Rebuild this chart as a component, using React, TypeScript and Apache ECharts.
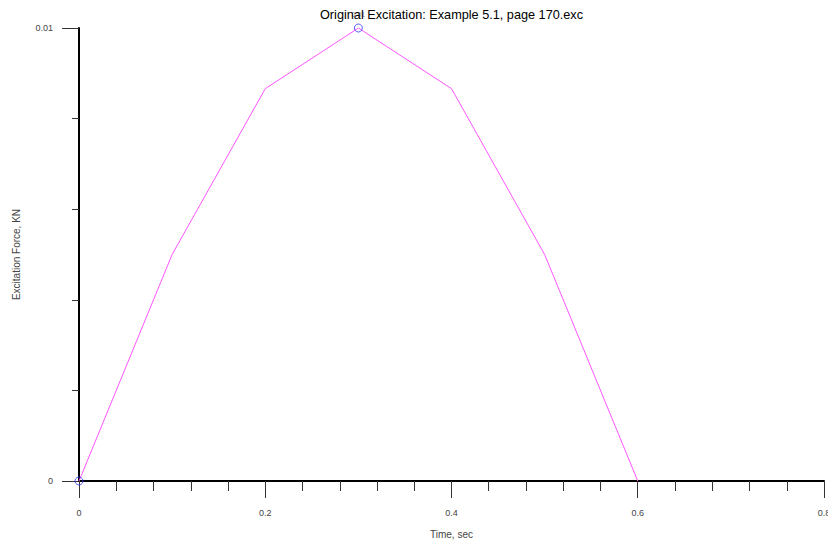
import React, { useEffect, useRef } from "react";
import * as echarts from "echarts";

const times = [0, 0.1, 0.2, 0.3, 0.4, 0.5, 0.6];
const forces = [0, 0.005, 0.00866, 0.01, 0.00866, 0.005, 0];
const markerTimes = [0, 0.3];
const markerForces = [0, 0.01];
const markerLabels = ["", "0.01"];

export default function App() {
  const ref = useRef<HTMLDivElement>(null);
  useEffect(() => {
    if (!ref.current) return;
    const chart = echarts.init(ref.current, null, { renderer: "svg" });
    const font = "Liberation Sans";
    chart.setOption({
      animation: false,
      backgroundColor: "#ffffff",
      title: {
        text: "Original Excitation: Example 5.1, page 170.exc",
        left: 315,
        top: 3,
        textStyle: { fontFamily: font, fontSize: 12.7, fontWeight: "normal", color: "#000" },
      },
      grid: { left: 79, right: 4, top: 28, bottom: 63, containLabel: false, outerBoundsMode: "none" },
      xAxis: {
        type: "value",
        min: 0,
        max: 0.8,
        interval: 0.2,
        name: "Time, sec",
        nameLocation: "middle",
        nameGap: 48,
        nameTextStyle: { fontFamily: font, fontSize: 10, color: "#444" },
        axisLine: { show: true, onZero: false, lineStyle: { color: "#000", width: 2 } },
        axisTick: { show: true, length: 17, lineStyle: { color: "#333", width: 1 } },
        minorTick: { show: true, splitNumber: 5, length: 10, lineStyle: { color: "#333", width: 1 } },
        axisLabel: { fontFamily: font, fontSize: 9, color: "#444", margin: 27 },
        splitLine: { show: false },
        minorSplitLine: { show: false },
      },
      yAxis: {
        type: "value",
        min: 0,
        max: 0.01,
        interval: 0.01,
        name: "Excitation Force, KN",
        nameLocation: "middle",
        nameGap: 58,
        nameTextStyle: { fontFamily: font, fontSize: 10, color: "#444" },
        axisLine: { show: true, onZero: false, lineStyle: { color: "#000", width: 2 } },
        axisTick: { show: true, length: 17, lineStyle: { color: "#333", width: 1 } },
        minorTick: { show: true, splitNumber: 5, length: 7, lineStyle: { color: "#333", width: 1 } },
        axisLabel: { fontFamily: font, fontSize: 9, color: "#444", margin: 26 },
        splitLine: { show: false },
        minorSplitLine: { show: false },
      },
      series: [
        {
          type: "line",
          data: times.map((t, i) => [t, forces[i]]),
          showSymbol: false,
          lineStyle: { color: "#ff55ff", width: 1 },
          z: 2,
        },
        {
          type: "scatter",
          data: markerTimes.map((t, i) => [t, markerForces[i]]),
          symbol: "circle",
          symbolSize: 8,
          itemStyle: { color: "none", borderColor: "#3333ff", borderWidth: 1 },
          label: {
            show: true,
            position: "top",
            distance: 4,
            fontFamily: font,
            fontSize: 7,
            color: "#777",
            formatter: (p: any) => markerLabels[p.dataIndex],
          },
          z: 3,
        },
      ],
    });
    return () => chart.dispose();
  }, []);
  return <div ref={ref} style={{ width: 828, height: 544, position: "absolute", left: 0, top: 0 }} />;
}
